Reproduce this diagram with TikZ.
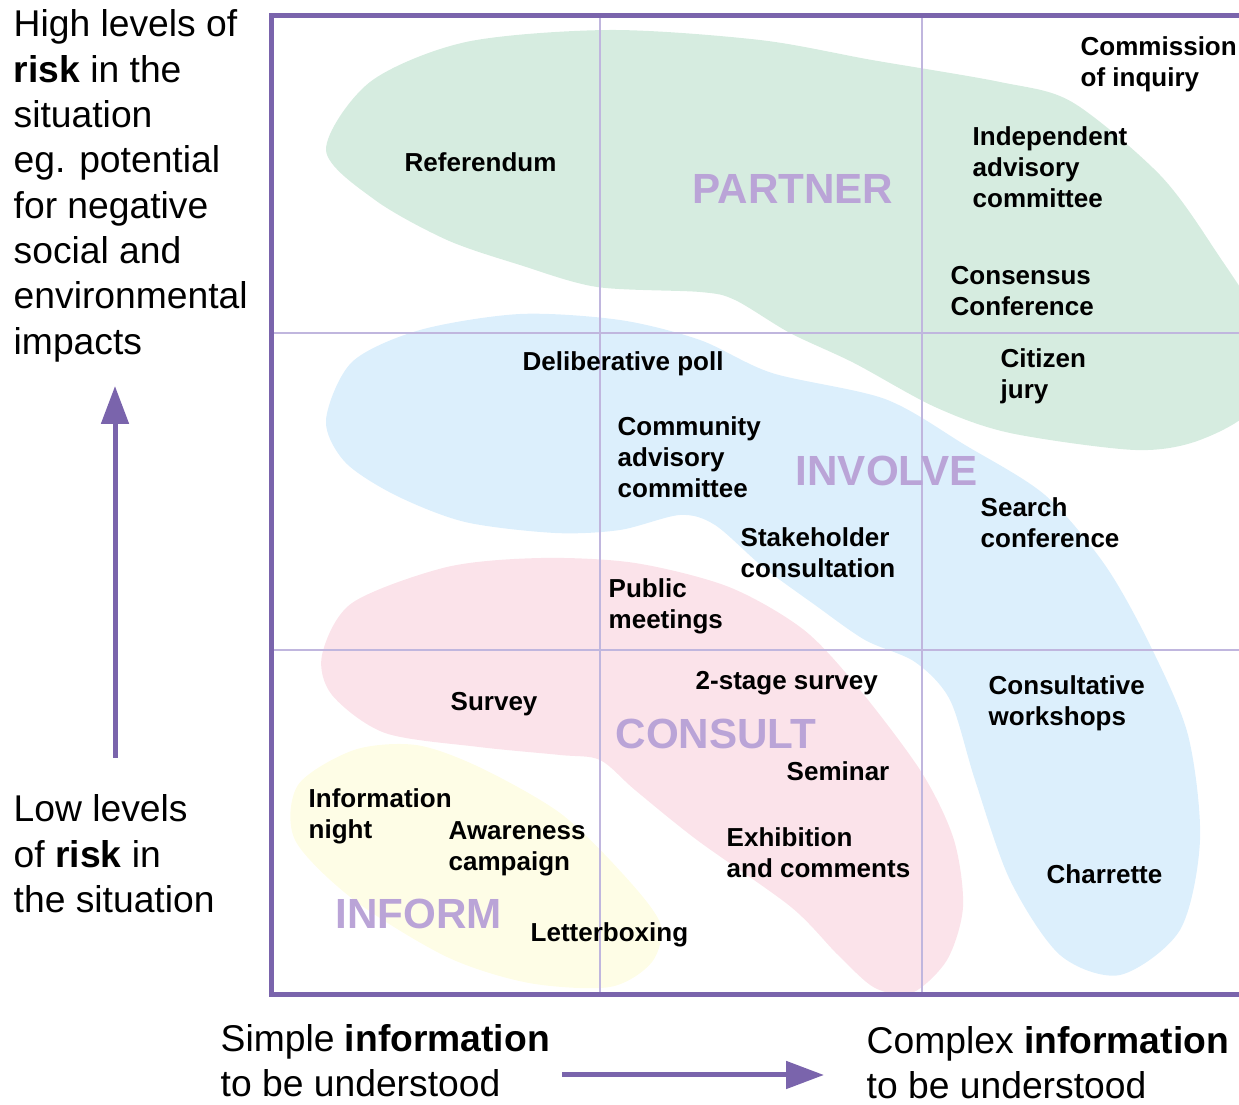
\documentclass[tikz,border=0pt]{standalone}
\usepackage{fontspec}
\setmainfont{Liberation Sans}
\usetikzlibrary{arrows.meta}
\definecolor{framepurple}{RGB}{122,100,172}
\definecolor{gridpurple}{RGB}{192,182,222}
\definecolor{lavender}{RGB}{186,164,215}
\definecolor{partnerfill}{RGB}{214,236,224}
\definecolor{involvefill}{RGB}{220,239,252}
\definecolor{consultfill}{RGB}{251,227,234}
\definecolor{informfill}{RGB}{254,253,230}
\tikzset{method/.style={anchor=west,inner sep=0pt,align=left,font=\fontsize{7.4}{8.9}\selectfont\bfseries}}
\tikzset{level/.style={anchor=west,inner sep=0pt,text=lavender,font=\fontsize{12}{14}\selectfont\bfseries}}
\tikzset{axisnote/.style={anchor=west,inner sep=0pt,align=left,font=\fontsize{10.6}{12.9}\selectfont}}
\tikzset{axisarrow/.style={draw=framepurple,line width=0.5mm,-{Triangle[length=3.8mm,width=2.7mm]}}}
\tikzset{gridline/.style={draw=gridpurple,line width=0.15mm}}

\begin{document}
\begin{tikzpicture}[x=0.1mm,y=-0.1mm]
	    \useasboundingbox (0,0) rectangle (1239,1105);
	    \clip (0,0) rectangle (1239,1105);
	    \fill[partnerfill] plot[smooth cycle] coordinates {(326,150) (370,82) (466,42) (610,30) (760,40) (872,60) (1000,82) (1072,102) (1160,175) (1215,250) (1262,330) (1255,405) (1200,440) (1135,450) (1010,433) (935,407) (854,363) (790,333) (735,300) (700,292) (597,287) (520,265) (447,240) (375,200)};
	    \fill[involvefill] plot[smooth cycle] coordinates {(326,420) (352,362) (420,330) (520,314) (620,320) (700,340) (772,373) (885,399) (965,445) (1045,495) (1105,565) (1150,645) (1188,735) (1200,840) (1180,930) (1120,975) (1060,955) (1010,880) (975,780) (950,700) (915,662) (865,640) (815,605) (763,567) (715,525) (680,515) (620,530) (555,533) (465,522) (395,495) (345,462)};
	    \fill[consultfill] plot[smooth cycle] coordinates {(322,655) (352,603) (447,567) (541,558) (635,563) (729,587) (804,630) (860,690) (922,773) (954,840) (963,907) (947,960) (912,993) (875,988) (838,955) (791,907) (697,840) (635,790) (600,760) (560,755) (479,747) (385,733) (332,695)};
	    \fill[informfill] plot[smooth cycle] coordinates {(354,750) (298,785) (295,840) (354,900) (447,957) (529,983) (610,987) (652,962) (660,923) (622,873) (560,813) (479,767) (416,745)};
	    \draw[gridline] (600,16) -- (600,995);
	    \draw[gridline] (922,16) -- (922,995);
	    \draw[gridline] (271,333) -- (1300,333);
	    \draw[gridline] (271,650) -- (1300,650);
	    \draw[framepurple,line width=0.5mm] (271,16) rectangle (1300,995);
	    \node[level] (partner) at (692,189) {PARTNER};
	    \node[level] (involve) at (795,471) {INVOLVE};
	    \node[level] (consult) at (615,734) {CONSULT};
	    \node[level] (inform) at (335,914) {INFORM};
	    \node[method] (commission) at (1080,64) {Commission\\of inquiry};
	    \node[method] (referendum) at (404,162) {Referendum};
	    \node[method] (independent) at (972,167) {Independent\\advisory\\committee};
	    \node[method] (consensus) at (950,291) {Consensus\\Conference};
	    \node[method] (deliberative) at (522,364) {Deliberative poll};
	    \node[method] (citizen) at (1000,376) {Citizen\\jury};
	    \node[method] (community) at (617,457) {Community\\advisory\\committee};
	    \node[method] (search) at (980,523) {Search\\conference};
	    \node[method] (stakeholder) at (740,553) {Stakeholder\\consultation};
	    \node[method] (public) at (608,606) {Public\\meetings};
	    \node[method] (twostage) at (695,683) {2-stage survey};
	    \node[method] (survey) at (450,704) {Survey};
	    \node[method] (workshops) at (988,703) {Consultative\\workshops};
	    \node[method] (seminar) at (786,771) {Seminar};
	    \node[method] (infonight) at (308,816) {Information\\night};
	    \node[method] (awareness) at (448,849) {Awareness\\campaign};
	    \node[method] (exhibition) at (726,853) {Exhibition\\and comments};
	    \node[method] (charrette) at (1046,874) {Charrette};
	    \node[method] (letterbox) at (530,935) {Letterboxing};
	    \node[axisnote] (highrisk) at (13,186) {High levels of\\\textbf{risk} in the\\situation\\eg. potential\\for negative\\social and\\environmental\\impacts};
	    \node[axisnote] (lowrisk) at (13,854) {Low levels\\of \textbf{risk} in\\the situation};
	    \node[axisnote] (simple) at (220,1061) {Simple \textbf{information}\\to be understood};
	    \node[axisnote] (complex) at (866,1063) {Complex \textbf{information}\\to be understood};
	    \coordinate (riskfrom) at (115,758);
	    \coordinate (riskto) at (115,386);
	    \coordinate (infofrom) at (562,1075);
	    \coordinate (infoto) at (824,1075);
	    \draw[axisarrow] (riskfrom) -- (riskto);
	    \draw[axisarrow] (infofrom) -- (infoto);
        \end{tikzpicture}
\end{document}
